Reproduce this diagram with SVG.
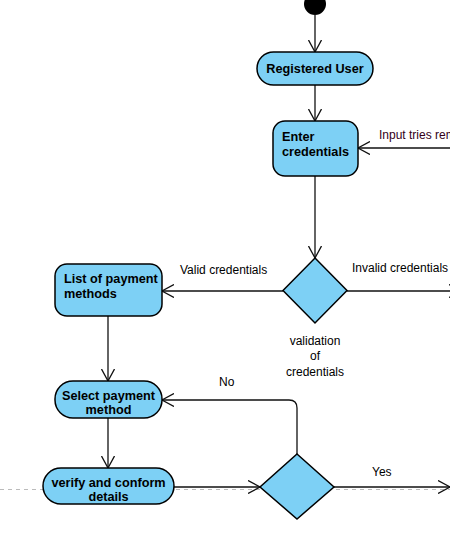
<svg xmlns="http://www.w3.org/2000/svg" width="450" height="534" viewBox="0 0 450 534">
<style>
.node{fill:#7dd0f5;stroke:#000;stroke-width:1.5}
.nl{font-family:"Liberation Sans",Arial,sans-serif;font-size:12.7px;font-weight:bold;fill:#000}
.el{font-family:"Liberation Sans",Arial,sans-serif;font-size:12px;fill:#000}
.c{fill:none;stroke:#111;stroke-width:1.3}
</style>
<defs>
<marker id="arr" viewBox="0 0 12 14" refX="12" refY="7" markerWidth="12" markerHeight="14" orient="auto" markerUnits="userSpaceOnUse">
<path d="M0,0.5 L12,7 L0,13.5" fill="none" stroke="#111" stroke-width="1.3"/>
</marker>
</defs>
<line x1="0" y1="489.5" x2="450" y2="489.5" stroke="#bbb" stroke-width="1" stroke-dasharray="4 4"/>
<g id="connectors">
<line class="c" x1="315" y1="15" x2="315" y2="52" marker-end="url(#arr)"/>
<line class="c" x1="315" y1="85" x2="315" y2="121" marker-end="url(#arr)"/>
<line class="c" x1="460" y1="148" x2="358" y2="148" marker-end="url(#arr)"/>
<line class="c" x1="315" y1="176" x2="315" y2="258" marker-end="url(#arr)"/>
<line class="c" x1="283" y1="291" x2="162" y2="291" marker-end="url(#arr)"/>
<line class="c" x1="347" y1="291" x2="461" y2="291" marker-end="url(#arr)"/>
<line class="c" x1="108" y1="316" x2="108" y2="381" marker-end="url(#arr)"/>
<line class="c" x1="108" y1="418" x2="108" y2="468" marker-end="url(#arr)"/>
<line class="c" x1="174" y1="487" x2="260" y2="487" marker-end="url(#arr)"/>
<path class="c" d="M297,454 L297,408 Q297,400 289,400 L162,400" marker-end="url(#arr)"/>
<line class="c" x1="334" y1="487" x2="450" y2="487" marker-end="url(#arr)"/>
<text class="el" x="379" y="139" style="fill:#330019">Input tries remaining</text>
<text class="el" x="180" y="274">Valid credentials</text>
<text class="el" x="352" y="272">Invalid credentials</text>
<text class="el" x="219" y="386">No</text>
<text class="el" x="372" y="476">Yes</text>
</g>
<g id="start">
<circle cx="315" cy="4" r="11" fill="#000"/>
</g>
<g id="registered-user">
<rect class="node" x="257" y="52" width="116" height="33" rx="16.5"/>
<text class="nl" x="315" y="73" text-anchor="middle">Registered User</text>
</g>
<g id="enter-credentials">
<rect class="node" x="273" y="121" width="85" height="55" rx="12"/>
<text class="nl" x="282" y="141">Enter</text>
<text class="nl" x="282" y="156">credentials</text>
</g>
<g id="validation">
<polygon class="node" points="315,258 347,290.5 315,323 283,290.5"/>
<text class="el" x="315" y="345" text-anchor="middle">validation</text>
<text class="el" x="315" y="360" text-anchor="middle">of</text>
<text class="el" x="315" y="376" text-anchor="middle">credentials</text>
</g>
<g id="list-payment">
<rect class="node" x="55" y="264" width="107" height="52" rx="12"/>
<text class="nl" x="64" y="283">List of payment</text>
<text class="nl" x="64" y="298">methods</text>
</g>
<g id="select-payment">
<rect class="node" x="55" y="381" width="107" height="37" rx="18"/>
<text class="nl" x="108.5" y="400" text-anchor="middle">Select payment</text>
<text class="nl" x="108.5" y="414" text-anchor="middle">method</text>
</g>
<g id="verify-details">
<rect class="node" x="43" y="468" width="131" height="36" rx="18"/>
<text class="nl" x="108.5" y="487" text-anchor="middle">verify and conform</text>
<text class="nl" x="108.5" y="501" text-anchor="middle">details</text>
</g>
<g id="confirm-decision">
<polygon class="node" points="297,454 334,487 297,519 260,487"/>
<text class="el" x="297" y="543" text-anchor="middle">if</text>
</g>
</svg>
